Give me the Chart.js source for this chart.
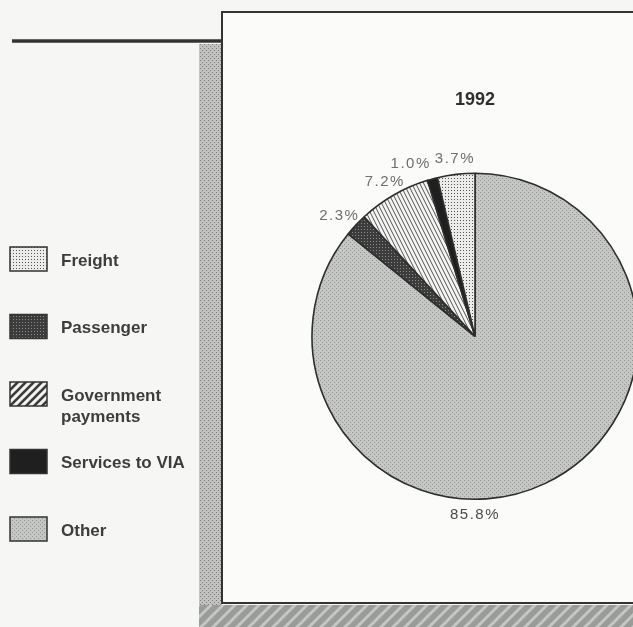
<!DOCTYPE html>
<html>
<head>
<meta charset="utf-8">
<title>1992</title>
<script src="https://cdn.jsdelivr.net/npm/chart.js@4.4.1/dist/chart.umd.min.js"></script>
<style>
  html, body { margin: 0; padding: 0; background: #f6f6f4; }
  canvas { display: block; }
</style>
</head>
<body>
<canvas id="pieChart" width="633" height="627"></canvas>
<script>
// slices, clockwise from 12 o'clock
const sliceLabels = ['Other', 'Passenger', 'Government payments', 'Services to VIA', 'Freight'];
const sliceValues = [85.8, 2.3, 7.2, 1.0, 3.7];
// legend reads top to bottom in this order
const legendOrder = ['Freight', 'Passenger', 'Government payments', 'Services to VIA', 'Other'];
const chartTitle = '1992';

const FONT = "'Liberation Sans', Arial, Helvetica, sans-serif";
const canvas = document.getElementById('pieChart');
const mainCtx = canvas.getContext('2d');

const makePattern = (w, h, paint) => {
    const c = document.createElement('canvas');
    c.width = w;
    c.height = h;
    paint(c.getContext('2d'), w, h);
    return mainCtx.createPattern(c, 'repeat');
};

// screen-print style fills
const fills = {
    'Other': makePattern(4, 4, (g) => {
        g.fillStyle = '#c4c7c4'; g.fillRect(0, 0, 4, 4);
        g.fillStyle = '#939693'; g.fillRect(0, 0, 1, 1); g.fillRect(2, 2, 1, 1);
    }),
    'Passenger': makePattern(3, 3, (g) => {
        g.fillStyle = '#3c3c3c'; g.fillRect(0, 0, 3, 3);
        g.fillStyle = '#8a8a8a'; g.fillRect(1, 1, 1, 1);
    }),
    'Government payments': makePattern(4, 8, (g) => {
        g.fillStyle = '#f4f4f2'; g.fillRect(0, 0, 4, 8);
        g.strokeStyle = '#555'; g.lineWidth = 1;
        g.beginPath();
        g.moveTo(-4, -8); g.lineTo(8, 16);
        g.moveTo(0, -8); g.lineTo(12, 16);
        g.moveTo(-8, -8); g.lineTo(4, 16);
        g.stroke();
    }),
    'Services to VIA': '#1f1f1f',
    'Freight': makePattern(3, 3, (g) => {
        g.fillStyle = '#ececea'; g.fillRect(0, 0, 3, 3);
        g.fillStyle = '#555555'; g.fillRect(1, 1, 1, 1);
    })
};
// the legend key shows the hatch bolder than the wedge does
const legendFills = {
    ...fills,
    'Government payments': makePattern(8, 8, (g) => {
        g.fillStyle = '#f2f2f0'; g.fillRect(0, 0, 8, 8);
        g.strokeStyle = '#3a3a3a'; g.lineWidth = 2.6;
        g.beginPath();
        g.moveTo(0, 8); g.lineTo(8, 0);
        g.moveTo(-2, 2); g.lineTo(2, -2);
        g.moveTo(6, 10); g.lineTo(10, 6);
        g.stroke();
    })
};

const shadowDots = makePattern(4, 4, (g) => {
    g.fillStyle = '#c2c2c0'; g.fillRect(0, 0, 4, 4);
    g.fillStyle = '#7c7c7a'; g.fillRect(0, 0, 1, 1); g.fillRect(2, 2, 1, 1);
});
const shadowStripes = makePattern(12, 12, (g) => {
    g.fillStyle = '#9a9c9a'; g.fillRect(0, 0, 12, 12);
    g.strokeStyle = '#c4c6c4'; g.lineWidth = 3;
    g.beginPath();
    g.moveTo(0, 12); g.lineTo(12, 0);
    g.moveTo(-6, 6); g.lineTo(6, -6);
    g.moveTo(6, 18); g.lineTo(18, 6);
    g.stroke();
});

// page furniture: framed panel, shadow and the rule on the left
const backdrop = {
    id: 'backdrop',
    beforeDraw(chart) {
        const { ctx, width, height } = chart;
        ctx.save();
        ctx.fillStyle = '#f6f6f4';
        ctx.fillRect(0, 0, width, height);
        ctx.fillStyle = shadowDots;
        ctx.fillRect(199, 44, 23, height - 44);
        ctx.fillStyle = shadowStripes;
        ctx.fillRect(199, 605, width - 199, height - 605);
        ctx.fillStyle = '#fbfbfa';
        ctx.fillRect(222, 12, width - 222, 591);
        ctx.strokeStyle = '#333';
        ctx.lineWidth = 2;
        ctx.beginPath();
        ctx.moveTo(width + 2, 12);
        ctx.lineTo(222, 12);
        ctx.lineTo(222, 603);
        ctx.lineTo(width + 2, 603);
        ctx.stroke();
        ctx.lineWidth = 3.5;
        ctx.beginPath();
        ctx.moveTo(12, 41);
        ctx.lineTo(222, 41);
        ctx.stroke();
        ctx.restore();
    }
};

const wrapText = (ctx, text, maxWidth) => {
    const words = text.split(' ');
    const lines = [];
    let line = '';
    words.forEach((w) => {
        const test = line ? line + ' ' + w : w;
        if (line && ctx.measureText(test).width > maxWidth) {
            lines.push(line);
            line = w;
        } else {
            line = test;
        }
    });
    lines.push(line);
    return lines;
};

const sideLegend = {
    id: 'sideLegend',
    afterDraw(chart, args, opts) {
        const { ctx } = chart;
        ctx.save();
        ctx.font = `bold 17px ${FONT}`;
        ctx.textBaseline = 'middle';
        ctx.textAlign = 'left';
        legendOrder.forEach((name, i) => {
            const cy = opts.top + i * opts.step;
            ctx.fillStyle = legendFills[name];
            ctx.fillRect(opts.left, cy - 12, 37, 24);
            ctx.strokeStyle = '#333';
            ctx.lineWidth = 1.5;
            ctx.strokeRect(opts.left, cy - 12, 37, 24);
            ctx.fillStyle = '#3d3d3d';
            wrapText(ctx, name, opts.maxWidth).forEach((ln, j) => {
                ctx.fillText(ln, opts.left + 51, cy + 2 + j * 21);
            });
        });
        ctx.restore();
    }
};

// percentage labels just outside the rim
const sliceLabelsPlugin = {
    id: 'sliceLabels',
    afterDatasetsDraw(chart, args, opts) {
        const { ctx } = chart;
        const meta = chart.getDatasetMeta(0);
        const values = chart.data.datasets[0].data;
        const total = values.reduce((a, b) => a + b, 0);
        ctx.save();
        ctx.font = `15px ${FONT}`;
        ctx.letterSpacing = '1.5px';
        ctx.textAlign = 'center';
        ctx.textBaseline = 'middle';
        const boxes = meta.data.map((arc, i) => {
            const { x, y, startAngle, endAngle, outerRadius } = arc.getProps(['x', 'y', 'startAngle', 'endAngle', 'outerRadius'], true);
            const big = values[i] / total > 0.5;
            // a dominant slice gets its label at 6 o'clock
            const angle = big ? Math.PI / 2 : (startAngle + endAngle) / 2;
            const text = values[i].toFixed(1) + '%';
            const w = ctx.measureText(text).width;
            const r = outerRadius + opts.gap;
            return {
                text, w, big, angle,
                cx: x + Math.cos(angle) * (r + w / 2 * Math.abs(Math.cos(angle))),
                cy: y + Math.sin(angle) * (r + 8 * Math.abs(Math.sin(angle)))
            };
        });
        // walk back from the last wedge and nudge crowded labels sideways
        const placed = [];
        for (let i = boxes.length - 1; i >= 0; i--) {
            const b = boxes[i];
            placed.forEach((p) => {
                const need = (b.w + p.w) / 2 + 4;
                if (Math.abs(b.cy - p.cy) < 16 && Math.abs(b.cx - p.cx) < need) {
                    b.cx = b.cx < p.cx ? p.cx - need : p.cx + need;
                }
            });
            placed.push(b);
        }
        boxes.forEach((b) => {
            ctx.fillStyle = b.big ? '#4a4a4a' : '#6e6e6e';
            ctx.fillText(b.text, b.cx, b.cy);
        });
        ctx.restore();
    }
};

new Chart(canvas, {
    type: 'pie',
    data: {
        labels: sliceLabels,
        datasets: [{
            data: sliceValues,
            backgroundColor: sliceLabels.map(l => fills[l]),
            borderColor: '#2e2e2e',
            borderWidth: 1.6,
            radius: 163
        }]
    },
    options: {
        responsive: false,
        animation: false,
        layout: { padding: { left: 330, right: 13, top: 12, bottom: 65 } },
        plugins: {
            legend: { display: false },
            tooltip: { enabled: false },
            title: {
                display: true,
                text: chartTitle,
                color: '#2f2f2f',
                font: { family: FONT, size: 18, weight: 'bold' },
                padding: { top: 77, bottom: 0 }
            },
            sideLegend: { left: 10, top: 259, step: 67.5, maxWidth: 140 },
            sliceLabels: { gap: 8 }
        }
    },
    plugins: [backdrop, sideLegend, sliceLabelsPlugin]
});
</script>
</body>
</html>
